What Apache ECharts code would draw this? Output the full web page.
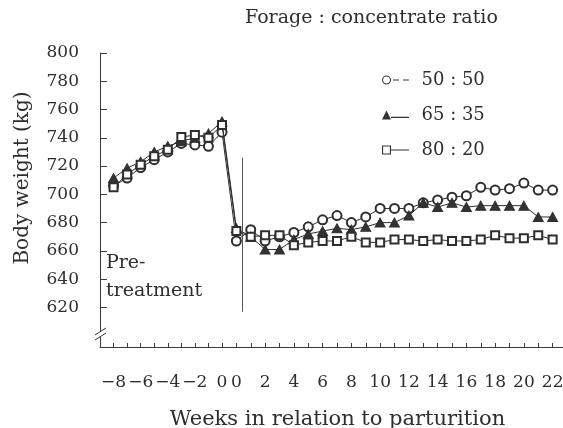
<!DOCTYPE html>
<html><head><meta charset="utf-8">
<script src="https://cdn.jsdelivr.net/npm/echarts@6/dist/echarts.min.js"></script>
<style>html,body{margin:0;padding:0;background:#fff}#c{width:563px;height:428px}</style>
</head><body><div id="c"></div>
<script>
// ---- data ----
const weeksPre  = [-8, -7, -6, -5, -4, -3, -2, -1, 0];
const weeksPost = [0, 1, 2, 3, 4, 5, 6, 7, 8, 9, 10, 11, 12, 13, 14, 15, 16, 17, 18, 19, 20, 21, 22];

const pre_50_50 = [706, 711.5, 719, 724.5, 730, 736, 735, 734, 744];
const pre_65_35 = [711.5, 718.5, 723, 730, 734, 737.5, 740, 743, 751.5];
const pre_80_20 = [705, 714, 721, 727, 731.5, 740.5, 742, 740, 749];

const post_50_50 = [667, 675, 667, 670, 673, 677, 682, 685, 680, 684, 690, 690, 690, 694, 696, 698, 699, 705, 703, 704, 708, 703, 703];
const post_65_35 = [676, 670, 661, 661, 668, 672, 674, 676, 675, 677, 680, 680, 685, 694, 691, 694, 691, 692, 692, 692, 692, 684, 684];
const post_80_20 = [674, 670, 671, 671, 664, 666, 667, 667, 670, 666, 666, 668, 668, 667, 668, 667, 667, 668, 671, 669, 669, 671, 668];

const seriesNames = ['50 : 50', '65 : 35', '80 : 20'];
const yTicks = [620, 640, 660, 680, 700, 720, 740, 760, 780, 800];
const preTicks = [-8, -7, -6, -5, -4, -3, -2, -1, 0];
const preLabels = [-8, -6, -4, -2, 0];
const postTicks = weeksPost;
const postLabels = [0, 2, 4, 6, 8, 10, 12, 14, 16, 18, 20, 22];

const titleText = 'Forage : concentrate ratio';
const xName = 'Weeks in relation to parturition';
const yName = 'Body weight (kg)';
const periodNote = 'Pre-\ntreatment';
// parturition marker line (post-axis week, kg)
const markX = 0.43, markTop = 726, markBottom = 617;

// ---- styling ----
const FONT = 'DejaVu Serif';
const INK = '#2e2e2e';
const symbols = [
  {symbol: 'emptyCircle', size: 9},
  {symbol: 'triangle', size: [10, 9]},
  {symbol: 'emptyRect', size: 8}
];
const icons = [
  'path://M0,4.5a4.5,4.5 0 1,1 9,0a4.5,4.5 0 1,1 -9,0zM1.1,4.5a3.4,3.4 0 1,0 6.8,0a3.4,3.4 0 1,0 -6.8,0zM11,3.9h6v1.2h-6zM21,3.9h6v1.2h-6z',
  'path://M0,9L4.5,0L9,9zM9,6.3h18v1.2h-18z',
  'path://M0,0h9v9h-9zM1.1,1.1v6.8h6.8v-6.8zM9,3.9h18v1.2h-18z'
];

const preData = [pre_50_50, pre_65_35, pre_80_20];
const postData = [post_50_50, post_65_35, post_80_20];

function fmtWeek(v) { return v < 0 ? '\u2212' + (-v) : String(v); }

const series = [];
seriesNames.forEach((name, k) => {
  const common = {
    name, type: 'line',
    symbol: symbols[k].symbol, symbolSize: symbols[k].size,
    lineStyle: {color: INK, width: 1},
    itemStyle: {color: k === 1 ? '#333' : INK, borderColor: INK, borderWidth: 1},
    emphasis: {disabled: true},
    animation: false
  };
  series.push(Object.assign({}, common, {
    xAxisIndex: 0, yAxisIndex: 0, z: 3 + k,
    data: weeksPre.map((w, i) => [w, preData[k][i]])
  }));
  const d = [{value: [-1, preData[k][preData[k].length - 1]], symbol: 'none'}]
    .concat(weeksPost.map((w, i) => [w, postData[k][i]]));
  const s = Object.assign({}, common, {
    xAxisIndex: 1, yAxisIndex: 1, z: 3 + k, data: d
  });
  if (k === 2) {
    s.markLine = {
      silent: true, symbol: 'none', label: {show: false},
      lineStyle: {color: '#555', width: 1, type: 'solid'},
      data: [[{coord: [markX, markTop]}, {coord: [markX, markBottom]}]]
    };
  }
  series.push(s);
});

const axisLineStyle = {color: '#3a3a3a', width: 1};
const labelStyle = {fontFamily: FONT, fontSize: 17, color: INK};

const option = {
  backgroundColor: '#fff',
  animation: false,
  title: {
    text: titleText, left: 245, top: 9, padding: 0,
    textStyle: {fontFamily: FONT, fontSize: 19, fontWeight: 'normal', color: INK}
  },
  legend: {
    orient: 'vertical', left: 377, top: 66, itemGap: 17,
    itemWidth: 28, itemHeight: 9,
    textStyle: {fontFamily: FONT, fontSize: 18, color: INK, padding: [0, 0, 0, 7]},
    data: seriesNames.map((n, k) => ({
      name: n, icon: icons[k],
      itemStyle: {color: '#333', borderWidth: 0}
    }))
  },
  grid: [
    {left: 100, width: 122, top: 53, bottom: 81, outerBoundsMode: 'none', containLabel: false},
    {left: 222, right: -4, top: 53, bottom: 81, outerBoundsMode: 'none', containLabel: false}
  ],
  xAxis: [
    {
      type: 'value', gridIndex: 0, min: -9, max: 0,
      axisLine: {onZero: false, lineStyle: axisLineStyle},
      axisTick: {inside: true, length: 4, lineStyle: axisLineStyle, customValues: preTicks},
      axisLabel: Object.assign({margin: 27, customValues: preLabels, formatter: fmtWeek}, labelStyle),
      splitLine: {show: false}
    },
    {
      type: 'value', gridIndex: 1, min: -1, max: 23,
      name: xName, nameLocation: 'middle', nameGap: 62,
      nameTextStyle: {fontFamily: FONT, fontSize: 21, color: INK, padding: [0, 114, 0, 0]},
      axisLine: {onZero: false, lineStyle: axisLineStyle},
      axisTick: {inside: true, length: 4, lineStyle: axisLineStyle, customValues: postTicks},
      axisLabel: Object.assign({margin: 27, customValues: postLabels, formatter: fmtWeek}, labelStyle),
      splitLine: {show: false}
    }
  ],
  yAxis: [
    {
      type: 'value', gridIndex: 0, min: 592, max: 800,
      name: yName, nameLocation: 'middle', nameGap: 67,
      nameTextStyle: {fontFamily: FONT, fontSize: 20, color: INK, padding: [0, 0, 0, 44]},
      axisLine: {show: true, onZero: false, lineStyle: axisLineStyle},
      axisTick: {show: true, inside: true, length: 7, lineStyle: axisLineStyle, customValues: yTicks},
      axisLabel: Object.assign({margin: 21, customValues: yTicks}, labelStyle),
      splitLine: {show: false}
    },
    {
      type: 'value', gridIndex: 1, min: 592, max: 800, show: false,
      axisLine: {onZero: false},
      splitLine: {show: false}
    }
  ],
  graphic: [
    {type: 'text', left: 106, top: 249, z: 10,
     style: {text: periodNote, font: '19px "DejaVu Serif"', fill: INK, lineHeight: 28}},
    {type: 'polygon', z: 20, shape: {points: [[95, 335], [106, 328], [106, 333], [95, 340]]}, style: {fill: '#fff'}},
    {type: 'line', z: 21, shape: {x1: 95, y1: 335, x2: 106, y2: 328}, style: {stroke: '#3a3a3a', lineWidth: 1}},
    {type: 'line', z: 21, shape: {x1: 95, y1: 340, x2: 106, y2: 333}, style: {stroke: '#3a3a3a', lineWidth: 1}}
  ],
  series
};

const chart = echarts.init(document.getElementById('c'), null, {renderer: 'canvas'});
chart.setOption(option);
</script>
</body></html>
